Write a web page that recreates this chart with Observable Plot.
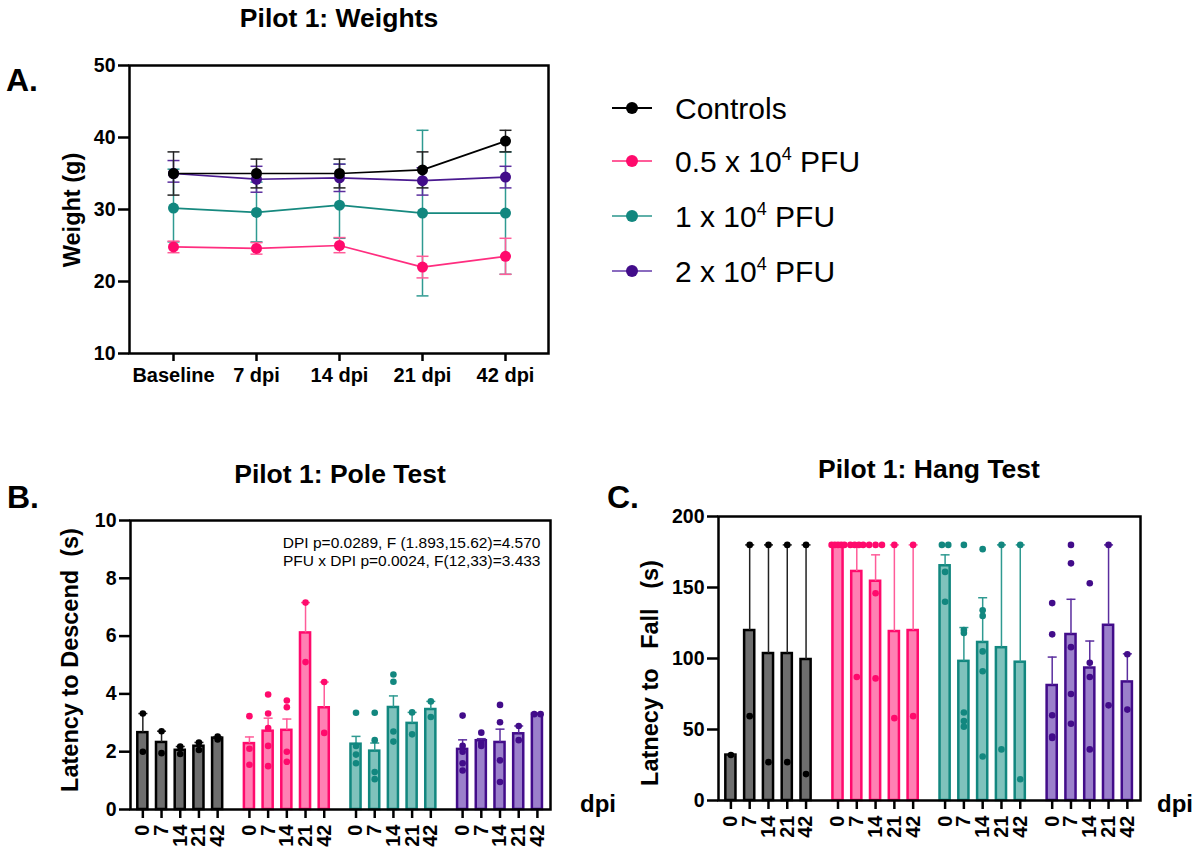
<!DOCTYPE html>
<html><head><meta charset="utf-8">
<script src="https://cdn.jsdelivr.net/npm/d3@7"></script>
<script src="https://cdn.jsdelivr.net/npm/@observablehq/plot@0.6"></script>
<style>
html,body{margin:0;padding:0;background:#fff;}
#root{position:relative;width:1196px;height:856px;overflow:hidden;font-family:"Liberation Sans",Arial,sans-serif;}
.panel{position:absolute;}
#overlay{position:absolute;left:0;top:0;}
#overlay text{white-space:pre;}
</style></head><body><div id="root"></div>
<script>
// ---------- data ----------
const groupNames = ["Controls", "0.5 x 10", "1 x 10", "2 x 10"];
const weightDays = ["Baseline", "7 dpi", "14 dpi", "21 dpi", "42 dpi"];
const dpiLabels = ["0", "7", "14", "21", "42"];

// Panel A: weights (mean, low, high)
const weightControls = [35.0, 35.0, 35.0, 35.5, 39.5];
const weightControlsLow = [32.0, 33.0, 33.0, 33.0, 38.0];
const weightControlsHigh = [38.0, 37.0, 37.0, 38.0, 41.0];
const weightLow = [24.8, 24.6, 25.0, 22.0, 23.5];
const weightLowLow = [24.0, 23.8, 24.0, 20.5, 21.0];
const weightLowHigh = [25.6, 25.4, 26.1, 23.5, 26.0];
const weightMid = [30.2, 29.6, 30.6, 29.5, 29.5];
const weightMidLow = [25.5, 25.5, 26.0, 18.0, 21.0];
const weightMidHigh = [35.6, 33.8, 36.3, 41.0, 38.0];
const weightHigh = [35.0, 34.2, 34.4, 34.0, 34.5];
const weightHighLow = [33.8, 32.4, 32.5, 32.0, 33.0];
const weightHighHigh = [36.8, 36.0, 36.3, 35.8, 36.0];

// Panel B: pole test
const poleMean = [
  [2.66, 2.32, 2.05, 2.19, 2.47],
  [2.28, 2.71, 2.74, 6.11, 3.52],
  [2.26, 2.02, 3.53, 2.98, 3.46],
  [2.08, 2.38, 2.32, 2.62, 3.30]
];
const poleErr = [
  [3.32, 2.71, 2.18, 2.32, 2.52],
  [2.51, 3.16, 3.13, 7.16, 4.41],
  [2.53, 2.30, 3.93, 3.36, 3.74],
  [2.41, 2.45, 2.78, 2.89, 3.32]
];
const polePoints = [
  [[3.32, 2.0], [2.71, 1.95], [2.18, 1.92], [2.32, 2.06], [2.52, 2.42]],
  [[3.23, 2.1, 1.55], [3.98, 3.32, 2.82, 2.2, 1.5], [3.77, 3.54, 2.0, 1.65], [7.16, 5.1], [4.41, 2.65]],
  [[3.35, 2.2, 1.9, 1.6], [3.35, 2.4, 1.3, 1.05], [4.67, 4.42, 2.7, 2.35], [3.36, 2.6], [3.74, 3.2]],
  [[3.25, 2.2, 2.0, 1.6, 1.35], [2.66, 2.3, 2.2], [3.62, 3.02, 1.7, 0.95], [2.89, 2.4], [3.3, 3.3]]
];
const poleStats = ["DPI p=0.0289, F (1.893,15.62)=4.570", "PFU x DPI p=0.0024, F(12,33)=3.433"];

// Panel C: hang test
const hangMean = [
  [32, 119.7, 103.5, 103.5, 99.3],
  [180, 161.3, 154.4, 119, 119.7],
  [165.3, 98, 111.3, 107.6, 97.4],
  [81, 116.9, 93.3, 123.4, 83.5]
];
const hangErr = [
  [32, 180, 180, 180, 180],
  [180, 180, 173, 180, 180],
  [173, 121.8, 142.8, 180, 180],
  [101, 141.7, 112.3, 180, 103.3]
];
const hangPoints = [
  [[32], [180, 59.4], [180, 27], [180, 27], [180, 18.6]],
  [[180, 180, 180, 180, 180], [180, 180, 180, 180, 87], [180, 180, 180, 146, 86], [180, 58], [180, 59.4]],
  [[180, 180, 140, 161], [180, 120, 118, 62, 56, 52], [177, 134, 130, 105, 91, 31], [180, 36], [180, 15]],
  [[139, 117, 60, 45, 44], [180, 167, 108, 75, 54], [153, 97, 87, 36], [180, 67], [103, 64]]
];

// ---------- styles ----------
const strokeColors = ["#000000", "#ff0a6c", "#12877f", "#420c8a"];
const fillColors = ["#6e6e6e", "#ff80b3", "#7fc2bc", "#9b80cb"];
const errColors = ["#222222", "#ff5c99", "#2f9a91", "#5a2d9e"];
const lineColors = ["#000000", "#ff2d7f", "#16897f", "#4a1a90"];
const legendLineColors = ["#000000", "#ff5c99", "#5fb0a9", "#8a6bbf"];
const FONT = "Liberation Sans, Arial, sans-serif";
const GROUP_STEP = 5.7;

const capSymbol = {draw(ctx, size) { const w = Math.sqrt(size); ctx.moveTo(-w, 0); ctx.lineTo(w, 0); }};
const capR = hw => hw / Math.sqrt(Math.PI);

const root = document.getElementById("root");
function place(node, left, top, w) {
  const div = document.createElement("div");
  div.className = "panel";
  div.style.left = left + "px"; div.style.top = top + "px"; div.style.width = w + "px";
  div.appendChild(node); root.appendChild(div);
}

// ---------- Panel A ----------
const weightSeries = [
  {mean: weightControls, lo: weightControlsLow, hi: weightControlsHigh},
  {mean: weightLow, lo: weightLowLow, hi: weightLowHigh},
  {mean: weightMid, lo: weightMidLow, hi: weightMidHigh},
  {mean: weightHigh, lo: weightHighLow, hi: weightHighHigh}
];
const weightTable = weightSeries.map((s, g) => weightDays.map((day, i) => ({g, day, mean: s.mean[i], lo: s.lo[i], hi: s.hi[i]})));
const drawOrder = [2, 1, 3, 0];
const aMarks = [];
for (const g of drawOrder) {
  const t = weightTable[g];
  aMarks.push(
    Plot.ruleX(t, {x: "day", y1: "lo", y2: "hi", stroke: errColors[g], strokeWidth: 1.5}),
    Plot.dot(t, {x: "day", y: "lo", symbol: capSymbol, r: capR(6), stroke: errColors[g], fill: "none", strokeWidth: 1.5}),
    Plot.dot(t, {x: "day", y: "hi", symbol: capSymbol, r: capR(6), stroke: errColors[g], fill: "none", strokeWidth: 1.5})
  );
}
for (const g of drawOrder) {
  const t = weightTable[g];
  aMarks.push(
    Plot.line(t, {x: "day", y: "mean", stroke: lineColors[g], strokeWidth: 1.7}),
    Plot.dot(t, {x: "day", y: "mean", r: 5.5, fill: strokeColors[g], stroke: "none"})
  );
}
const plotA = Plot.plot({
  width: 600, height: 400, marginLeft: 129, marginRight: 52, marginTop: 65, marginBottom: 47,
  style: {fontFamily: FONT, fontWeight: "bold", background: "transparent"},
  x: {type: "point", domain: weightDays, padding: 0.5},
  y: {domain: [10, 50]},
  marks: [
    ...aMarks,
    Plot.frame({stroke: "black", strokeWidth: 2.5}),
    Plot.axisY({ticks: [10, 20, 30, 40, 50], tickSize: 11, tickPadding: 3, strokeWidth: 2.5, fontSize: 19.5, fontWeight: "bold", label: null}),
    Plot.axisX({tickSize: 8, tickPadding: 6, strokeWidth: 2.5, fontSize: 20, fontWeight: "bold", label: null})
  ]
});
place(plotA, 0, 0, 600);

// ---------- bar panels ----------
function barTables(means, errs, points) {
  const bars = [], pts = [];
  means.forEach((m, g) => m.forEach((v, i) => {
    const pos = g * GROUP_STEP + i;
    bars.push({g, i, pos, mean: v, err: errs[g][i], label: dpiLabels[i]});
    const vals = points[g][i];
    const counts = d3.rollup(vals, a => a.length, d => d);
    const seen = new Map();
    vals.forEach(val => {
      const n = counts.get(val), k = seen.get(val) || 0;
      seen.set(val, k + 1);
      const sp = n > 1 ? Math.min(0.34, 0.68 / (n - 1)) : 0;
      pts.push({g, pos: pos + (k - (n - 1) / 2) * sp, v: val});
    });
  }));
  return {bars, pts};
}

function barPlot({means, errs, points, yDomain, yTicks, width, height, ml, mr, mt, mb, extra = []}) {
  const {bars, pts} = barTables(means, errs, points);
  const labelMap = new Map(bars.map(d => [d.pos.toFixed(3), d.label]));
  return Plot.plot({
    width, height, marginLeft: ml, marginRight: mr, marginTop: mt, marginBottom: mb,
    style: {fontFamily: FONT, fontWeight: "bold", background: "transparent"},
    color: {type: "identity"},
    x: {type: "linear", domain: [-0.66, 3 * GROUP_STEP + 4 + 0.7]},
    y: {domain: yDomain},
    marks: [
      Plot.rect(bars, {x1: d => d.pos - 0.27, x2: d => d.pos + 0.27, y1: 0, y2: "mean",
        fill: d => fillColors[d.g], stroke: d => strokeColors[d.g], strokeWidth: 2.5}),
      Plot.ruleX(bars, {x: "pos", y1: "mean", y2: "err", stroke: d => errColors[d.g], strokeWidth: 1.5}),
      Plot.dot(bars, {x: "pos", y: "err", symbol: capSymbol, r: capR(4.5), stroke: d => errColors[d.g], fill: "none", strokeWidth: 1.5}),
      Plot.dot(pts, {x: "pos", y: "v", r: 3.3, fill: d => strokeColors[d.g], stroke: "none"}),
      ...extra,
      Plot.frame({stroke: "black", strokeWidth: 2.5}),
      Plot.axisY({ticks: yTicks, tickSize: 11, tickPadding: 3, strokeWidth: 2.5, fontSize: 19.5, fontWeight: "bold", label: null}),
      Plot.axisX({ticks: bars.map(d => d.pos), tickFormat: d => labelMap.get(d.toFixed(3)) ?? "",
        tickRotate: -90, textAnchor: "end", tickSize: 9, tickPadding: 6, strokeWidth: 2.5, fontSize: 20, fontWeight: "bold", label: null})
    ]
  });
}

const plotB = barPlot({
  means: poleMean, errs: poleErr, points: polePoints, yDomain: [0, 10], yTicks: [0, 2, 4, 6, 8, 10],
  width: 600, height: 356, ml: 130, mr: 50, mt: 20, mb: 47,
  extra: [Plot.text([poleStats.join("\n")], {frameAnchor: "top-right", text: d => d, dx: -10, dy: 14.5,
    fontSize: 15.5, fontWeight: "normal", lineHeight: 1.18, fill: "black"})]
});
place(plotB, 0, 500, 600);

const plotC = barPlot({
  means: hangMean, errs: hangErr, points: hangPoints, yDomain: [0, 200], yTicks: [0, 50, 100, 150, 200],
  width: 596, height: 360, ml: 118, mr: 56, mt: 20, mb: 56
});
place(plotC, 600, 496, 596);

// ---------- text overlay ----------
const ov = d3.select(root).append("svg").attr("id", "overlay").attr("width", 1196).attr("height", 856)
  .style("font-family", FONT);
function txt(x, y, s, {size = 20, weight = "bold", anchor = "start", rotate = 0, baseline = null} = {}) {
  const t = ov.append("text").attr("x", x).attr("y", y).attr("font-size", size).attr("font-weight", weight)
    .attr("text-anchor", anchor).attr("fill", "black").attr("xml:space", "preserve").text(s);
  if (baseline) t.attr("dominant-baseline", baseline);
  if (rotate) t.attr("transform", `rotate(${rotate},${x},${y})`);
  return t;
}
txt(339, 27, "Pilot 1: Weights", {size: 26.5, anchor: "middle"});
txt(340, 483, "Pilot 1: Pole Test", {size: 26.5, anchor: "middle"});
txt(929, 478, "Pilot 1: Hang Test", {size: 26.5, anchor: "middle"});
txt(6, 91, "A.", {size: 32});
txt(7, 508, "B.", {size: 32});
txt(607, 508, "C.", {size: 32});
txt(72, 210, "Weight (g)", {size: 23.5, anchor: "middle", rotate: -90, baseline: "central"});
txt(70, 660, "Latency to Descend  (s)", {size: 23.5, anchor: "middle", rotate: -90, baseline: "central"});
txt(650, 673, "Latnecy to   Fall   (s)", {size: 23.5, anchor: "middle", rotate: -90, baseline: "central"});
txt(580, 812, "dpi", {size: 24});
txt(1157, 812, "dpi", {size: 24});

// legend
const legendY = [108, 161, 216, 271];
groupNames.forEach((name, g) => {
  const y = legendY[g];
  ov.append("line").attr("x1", 612).attr("x2", 652).attr("y1", y).attr("y2", y)
    .attr("stroke", legendLineColors[g]).attr("stroke-width", 1.8);
  ov.append("circle").attr("cx", 632).attr("cy", y).attr("r", 6).attr("fill", strokeColors[g]);
  const t = ov.append("text").attr("x", 675).attr("y", y + 10.7).attr("font-size", 30).attr("fill", "black")
    .attr("xml:space", "preserve");
  if (g === 0) { t.text(name); }
  else {
    t.append("tspan").text(name + "");
    t.append("tspan").attr("font-size", 18).attr("dy", -12).text("4");
    t.append("tspan").attr("dy", 12).text(" PFU");
  }
});
</script></body></html>
